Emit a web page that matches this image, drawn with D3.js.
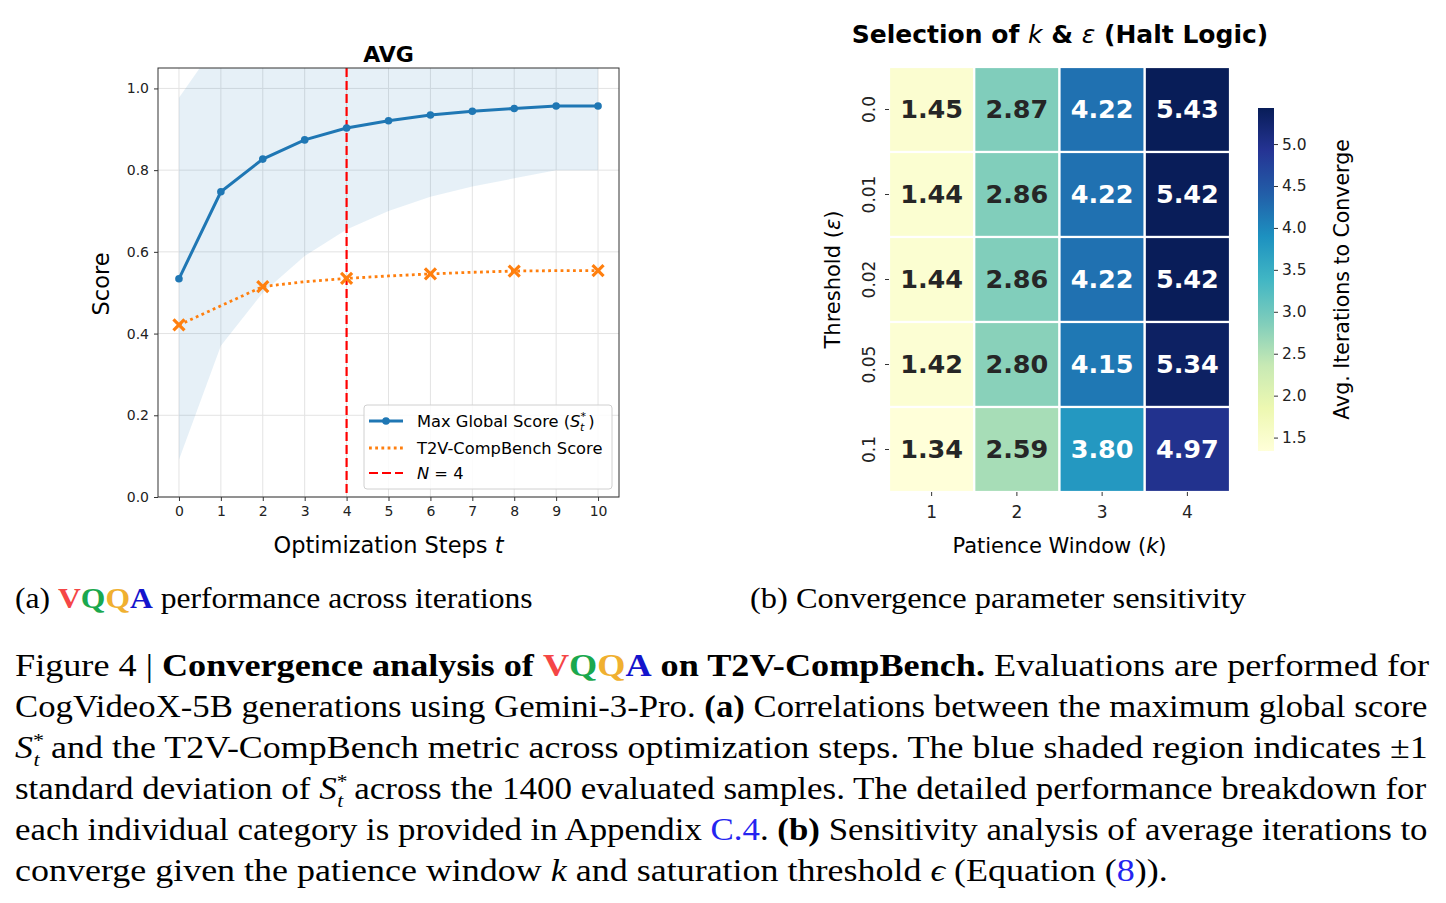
<!DOCTYPE html>
<html>
<head>
<meta charset="utf-8">
<script src="https://cdn.jsdelivr.net/npm/d3@7"></script>
<style>
  body { margin: 0; background: #fff; }
  svg text { font-family: "DejaVu Sans", sans-serif; }
</style>
</head>
<body>
<svg id="fig" width="1446" height="903"></svg>
<script>
// ---- data: (a) convergence across steps ----
const steps = [0, 1, 2, 3, 4, 5, 6, 7, 8, 9, 10];
const maxScore = [0.534, 0.747, 0.827, 0.874, 0.903, 0.921, 0.935, 0.944, 0.951, 0.957, 0.957];
const maxScoreStd = [0.443, 0.377, 0.327, 0.284, 0.248, 0.221, 0.200, 0.184, 0.171, 0.157, 0.157];
const t2vScore = [0.421, 0.468, 0.515, 0.527, 0.535, 0.541, 0.546, 0.550, 0.553, 0.554, 0.554];
const t2vMarkerSteps = [0, 2, 4, 6, 8, 10];
const haltStep = 4;
const yTicksA = [0.0, 0.2, 0.4, 0.6, 0.8, 1.0];

// ---- data: (b) heatmap ----
const patience = [1, 2, 3, 4];
const thresholds = ["0.0", "0.01", "0.02", "0.05", "0.1"];
const iterations = [
  [1.45, 2.87, 4.22, 5.43],
  [1.44, 2.86, 4.22, 5.42],
  [1.44, 2.86, 4.22, 5.42],
  [1.42, 2.80, 4.15, 5.34],
  [1.34, 2.59, 3.80, 4.97]
];
const cbarTicks = [1.5, 2.0, 2.5, 3.0, 3.5, 4.0, 4.5, 5.0];

const svg = d3.select("#fig");
svg.append("rect").attr("width", 1446).attr("height", 903).attr("fill", "#fff");

const blue = "#1f77b4", orange = "#ff7f0e";

// ================= (a) line chart =================
const x = d3.scaleLinear().domain([-0.5, 10.5]).range([158, 619]);
const y = d3.scaleLinear().domain([0, 1.05]).range([497, 68]);
const gA = svg.append("g");

gA.append("clipPath").attr("id", "clipA")
  .append("rect").attr("x", 158).attr("y", 68).attr("width", 461).attr("height", 429);

// grid
gA.append("g").selectAll("line").data(steps).join("line")
  .attr("x1", d => x(d)).attr("x2", d => x(d)).attr("y1", 68).attr("y2", 497)
  .attr("stroke", "#e3e3e3").attr("stroke-width", 1);
gA.append("g").selectAll("line").data(yTicksA).join("line")
  .attr("x1", 158).attr("x2", 619).attr("y1", d => y(d)).attr("y2", d => y(d))
  .attr("stroke", "#e3e3e3").attr("stroke-width", 1);

// std band
const band = d3.area()
  .x((d, i) => x(steps[i]))
  .y0((d, i) => y(d - maxScoreStd[i]))
  .y1((d, i) => y(d + maxScoreStd[i]));
gA.append("path").datum(maxScore).attr("d", band)
  .attr("fill", blue).attr("fill-opacity", 0.11).attr("clip-path", "url(#clipA)");

// halt line
gA.append("line").attr("x1", x(haltStep)).attr("x2", x(haltStep)).attr("y1", 68).attr("y2", 497)
  .attr("stroke", "#ff0000").attr("stroke-width", 2.2).attr("stroke-dasharray", "9,4");

// T2V line
const lineGen = d3.line().x((d, i) => x(steps[i])).y(d => y(d));
gA.append("path").datum(t2vScore).attr("d", lineGen)
  .attr("fill", "none").attr("stroke", orange).attr("stroke-width", 2.8).attr("stroke-dasharray", "2.8,3.4");
gA.append("g").selectAll("path").data(t2vMarkerSteps).join("path")
  .attr("transform", d => `translate(${x(d)},${y(t2vScore[steps.indexOf(d)])})`)
  .attr("d", "M-5.5,-5.5L5.5,5.5M-5.5,5.5L5.5,-5.5")
  .attr("stroke", orange).attr("stroke-width", 3.2);

// max score line
gA.append("path").datum(maxScore).attr("d", lineGen)
  .attr("fill", "none").attr("stroke", blue).attr("stroke-width", 3);
gA.append("g").selectAll("circle").data(maxScore).join("circle")
  .attr("cx", (d, i) => x(steps[i])).attr("cy", d => y(d)).attr("r", 3.8).attr("fill", blue);

// axes
const axB = gA.append("g").attr("transform", "translate(0,497)")
  .call(d3.axisBottom(x).tickValues(steps).tickSize(4).tickPadding(5).tickFormat(d3.format("d")));
const axL = gA.append("g").attr("transform", "translate(158,0)")
  .call(d3.axisLeft(y).tickValues(yTicksA).tickSize(4).tickPadding(5).tickFormat(d3.format(".1f")));
[axB, axL].forEach(a => {
  a.select(".domain").remove();
  a.selectAll("line").attr("stroke", "#333");
  a.selectAll("text").attr("font-size", 14).attr("fill", "#222").attr("font-family", "DejaVu Sans");
});
gA.append("rect").attr("x", 158).attr("y", 68).attr("width", 461).attr("height", 429)
  .attr("fill", "none").attr("stroke", "#333").attr("stroke-width", 1);

gA.append("text").attr("x", 388.5).attr("y", 62).attr("text-anchor", "middle")
  .attr("font-size", 22).attr("font-weight", "bold").text("AVG");
gA.append("text").attr("transform", "translate(109,284) rotate(-90)").attr("text-anchor", "middle")
  .attr("font-size", 22.5).text("Score");
const xl = gA.append("text").attr("x", 388.5).attr("y", 553).attr("text-anchor", "middle").attr("font-size", 22.5);
xl.append("tspan").text("Optimization Steps ");
xl.append("tspan").attr("font-style", "italic").text("t");

// legend
const leg = gA.append("g");
leg.append("rect").attr("x", 364).attr("y", 405).attr("width", 248).attr("height", 84).attr("rx", 3)
  .attr("fill", "#fff").attr("fill-opacity", 0.85).attr("stroke", "#d0d0d0");
const legRows = [421, 448, 473];
leg.append("line").attr("x1", 369).attr("x2", 403).attr("y1", legRows[0]).attr("y2", legRows[0])
  .attr("stroke", blue).attr("stroke-width", 3);
leg.append("circle").attr("cx", 386).attr("cy", legRows[0]).attr("r", 3.8).attr("fill", blue);
leg.append("line").attr("x1", 369).attr("x2", 403).attr("y1", legRows[1]).attr("y2", legRows[1])
  .attr("stroke", orange).attr("stroke-width", 2.8).attr("stroke-dasharray", "2.8,3.4");
leg.append("line").attr("x1", 369).attr("x2", 403).attr("y1", legRows[2]).attr("y2", legRows[2])
  .attr("stroke", "#ff0000").attr("stroke-width", 2.2).attr("stroke-dasharray", "9,4");
const l1 = leg.append("text").attr("x", 417).attr("y", legRows[0] + 6).attr("font-size", 16.3);
l1.append("tspan").text("Max Global Score (");
l1.append("tspan").attr("font-style", "italic").text("S");
l1.append("tspan").attr("font-size", 11).attr("dy", -7).text("*");
l1.append("tspan").attr("font-size", 11).attr("font-style", "italic").attr("dx", -6).attr("dy", 11).text("t");
l1.append("tspan").attr("dy", -4).attr("dx", 4).text(")");
leg.append("text").attr("x", 417).attr("y", legRows[1] + 6).attr("font-size", 16.3).text("T2V-CompBench Score");
const l3 = leg.append("text").attr("x", 417).attr("y", legRows[2] + 6).attr("font-size", 16.3);
l3.append("tspan").attr("font-style", "italic").text("N");
l3.append("tspan").text(" = 4");

// ================= (b) heatmap =================
const gB = svg.append("g");
const xb = d3.scaleBand().domain(patience).range([889, 1230]);
const yb = d3.scaleBand().domain(thresholds).range([67, 492]);
const ylgnbu = ["#ffffd9", "#edf8b1", "#c7e9b4", "#7fcdbb", "#41b6c4", "#1d91c0", "#225ea8", "#253494", "#081d58"];
const vmin = d3.min(iterations.flat()), vmax = d3.max(iterations.flat());
const color = d3.scaleLinear()
  .domain(ylgnbu.map((c, i) => vmin + (vmax - vmin) * i / (ylgnbu.length - 1)))
  .range(ylgnbu).interpolate(d3.interpolateRgb);

const cells = [];
thresholds.forEach((t, r) => patience.forEach((k, c) => cells.push({ t, k, v: iterations[r][c] })));

gB.selectAll("rect.cell").data(cells).join("rect").attr("class", "cell")
  .attr("x", d => xb(d.k)).attr("y", d => yb(d.t))
  .attr("width", xb.bandwidth()).attr("height", yb.bandwidth())
  .attr("fill", d => color(d.v)).attr("stroke", "#fff").attr("stroke-width", 2.2);

function lum(c) {
  const rgb = d3.rgb(c);
  const f = v => { v /= 255; return v <= 0.03928 ? v / 12.92 : Math.pow((v + 0.055) / 1.055, 2.4); };
  return 0.2126 * f(rgb.r) + 0.7152 * f(rgb.g) + 0.0722 * f(rgb.b);
}
gB.selectAll("text.val").data(cells).join("text").attr("class", "val")
  .attr("x", d => xb(d.k) + xb.bandwidth() / 2).attr("y", d => yb(d.t) + yb.bandwidth() / 2 - 1)
  .attr("text-anchor", "middle").attr("dominant-baseline", "central")
  .attr("font-size", 25.5).attr("font-weight", "bold")
  .attr("fill", d => lum(color(d.v)) > 0.408 ? "#262626" : "#fff")
  .text(d => d.v.toFixed(2));

const axBx = gB.append("g").attr("transform", "translate(0,492)")
  .call(d3.axisBottom(xb).tickSize(4).tickPadding(10));
axBx.select(".domain").remove();
axBx.selectAll("line").attr("stroke", "#333");
axBx.selectAll("text").attr("font-size", 17).attr("fill", "#222");

const axBy = gB.append("g").attr("transform", "translate(889,0)")
  .call(d3.axisLeft(yb).tickSize(4).tickFormat(""));
axBy.select(".domain").remove();
axBy.selectAll("line").attr("stroke", "#333");
gB.selectAll("text.ytk").data(thresholds).join("text").attr("class", "ytk")
  .attr("transform", d => `translate(869,${yb(d) + yb.bandwidth() / 2}) rotate(-90)`)
  .attr("text-anchor", "middle").attr("dominant-baseline", "central")
  .attr("font-size", 17).attr("fill", "#222").text(d => d);

const tB = gB.append("text").attr("x", 1060).attr("y", 43).attr("text-anchor", "middle").attr("font-size", 25);
tB.append("tspan").attr("font-weight", "bold").text("Selection of ");
tB.append("tspan").attr("font-style", "italic").text("k");
tB.append("tspan").attr("font-weight", "bold").text(" & ");
tB.append("tspan").attr("font-style", "italic").text("ε");
tB.append("tspan").attr("font-weight", "bold").text(" (Halt Logic)");

const xlB = gB.append("text").attr("x", 1059.5).attr("y", 553).attr("text-anchor", "middle").attr("font-size", 21);
xlB.append("tspan").text("Patience Window (");
xlB.append("tspan").attr("font-style", "italic").text("k");
xlB.append("tspan").text(")");
const ylB = gB.append("text").attr("transform", "translate(840,279.5) rotate(-90)")
  .attr("text-anchor", "middle").attr("font-size", 21);
ylB.append("tspan").text("Threshold (");
ylB.append("tspan").attr("font-style", "italic").text("ε");
ylB.append("tspan").text(")");

// colorbar
const cy = d3.scaleLinear().domain([vmin, vmax]).range([451, 108]);
const grad = svg.append("defs").append("linearGradient").attr("id", "cbar")
  .attr("x1", 0).attr("x2", 0).attr("y1", 1).attr("y2", 0);
grad.selectAll("stop").data(color.domain()).join("stop")
  .attr("offset", d => (d - vmin) / (vmax - vmin)).attr("stop-color", d => color(d));
gB.append("rect").attr("x", 1258).attr("y", 108).attr("width", 16).attr("height", 343).attr("fill", "url(#cbar)");
const axC = gB.append("g").attr("transform", "translate(1274,0)")
  .call(d3.axisRight(cy).tickValues(cbarTicks).tickSize(4).tickPadding(4).tickFormat(d3.format(".1f")));
axC.select(".domain").remove();
axC.selectAll("line").attr("stroke", "#333");
axC.selectAll("text").attr("font-size", 15.5).attr("fill", "#222");
gB.append("text").attr("transform", "translate(1342,279.5) rotate(-90)")
  .attr("text-anchor", "middle").attr("dominant-baseline", "central")
  .attr("font-size", 20.5).text("Avg. Iterations to Converge");

// ================= captions =================
const serif = "'Liberation Serif', 'DejaVu Serif', serif";
const cRed = "#f54646", cGreen = "#1aa84e", cYellow = "#f0b030", cBlue = "#1414cc", cLink = "#2424f0";
const vqqa = (bold) => [
  { t: "V", c: cRed, b: bold }, { t: "Q", c: cGreen, b: bold },
  { t: "Q", c: cYellow, b: bold }, { t: "A", c: cBlue, b: bold }
];
// S_t^* followed by the rest of the line back on the baseline
const sStar = (rest) => [
  { t: "S", i: true }, { t: "*", fs: 19, dy: -11 }, { t: "t", fs: 19, i: true, dx: -9, dy: 19 },
  { t: rest, dy: -8, dx: 2 }
];

function richLine(x0, y0, segs, width, fs) {
  const text = svg.append("text").attr("font-family", serif).attr("font-size", fs).attr("fill", "#000");
  segs.forEach(s => {
    const ts = text.append("tspan").text(s.t).style("font-family", serif);
    if (s.b) ts.attr("font-weight", "bold");
    if (s.i) ts.attr("font-style", "italic");
    if (s.c) ts.attr("fill", s.c);
    if (s.fs) ts.attr("font-size", s.fs);
    if (s.dx) ts.attr("dx", s.dx);
    if (s.dy) ts.attr("dy", s.dy);
  });
  const w = text.node().getBBox().width;
  text.attr("transform", `translate(${x0},${y0}) scale(${width / w},1)`);
}

richLine(15, 608, [{ t: "(a) " }, ...vqqa(true), { t: " performance across iterations" }], 518, 30);
richLine(750, 608, [{ t: "(b) Convergence parameter sensitivity" }], 496, 30);

const capLines = [
  [{ t: "Figure 4 | " }, { t: "Convergence analysis of ", b: true }, ...vqqa(true),
   { t: " on T2V-CompBench.", b: true }, { t: "  Evaluations are performed for" }],
  [{ t: "CogVideoX-5B generations using Gemini-3-Pro. " }, { t: "(a)", b: true },
   { t: " Correlations between the maximum global score" }],
  sStar(" and the T2V-CompBench metric across optimization steps. The blue shaded region indicates ±1"),
  [{ t: "standard deviation of " },
   ...sStar(" across the 1400 evaluated samples. The detailed performance breakdown for")],
  [{ t: "each individual category is provided in Appendix " }, { t: "C.4", c: cLink }, { t: ". " },
   { t: "(b)", b: true }, { t: " Sensitivity analysis of average iterations to" }],
  [{ t: "converge given the patience window " }, { t: "k", i: true }, { t: " and saturation threshold " },
   { t: "ϵ", i: true }, { t: " (Equation (" }, { t: "8", c: cLink }, { t: "))." }]
];
const capWidths = [1413, 1413, 1413, 1413, 1413, 1153];
capLines.forEach((segs, i) => richLine(15, 676 + i * 41, segs, capWidths[i], 31));
</script>
</body>
</html>
